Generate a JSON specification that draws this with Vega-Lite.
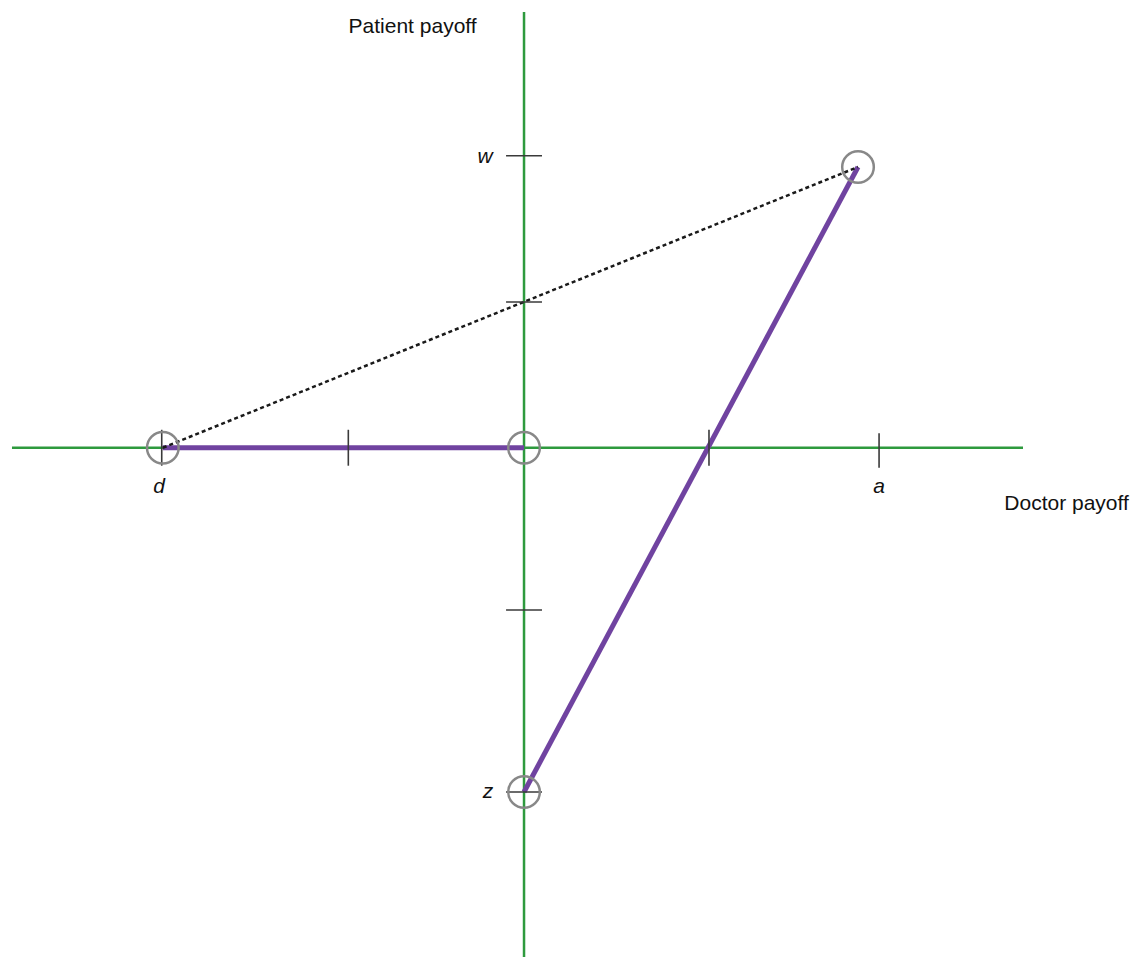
{
  "$schema": "https://vega.github.io/schema/vega-lite/v6.json",
  "width": 1131,
  "height": 959,
  "autosize": {"type": "fit", "contains": "padding"},
  "padding": 0,
  "background": "white",
  "config": {"view": {"stroke": null}},
  "datasets": {
    "axes": [
      {"x": -2.821, "x2": 2.749, "y": 0, "y2": 0},
      {"x": 0, "x2": 0, "y": -2.806, "y2": 2.401}
    ],
    "ticks": [
      {"x": -1.996, "x2": -1.996, "y": -0.099, "y2": 0.099},
      {"x": -0.968, "x2": -0.968, "y": -0.099, "y2": 0.099},
      {"x": 1.019, "x2": 1.019, "y": -0.099, "y2": 0.099},
      {"x": 1.956, "x2": 1.956, "y": -0.11, "y2": 0.08},
      {"x": -0.099, "x2": 0.099, "y": 1.609, "y2": 1.609},
      {"x": -0.099, "x2": 0.099, "y": 0.803, "y2": 0.803},
      {"x": -0.099, "x2": 0.099, "y": -0.894, "y2": -0.894},
      {"x": -0.099, "x2": 0.099, "y": -1.897, "y2": -1.897}
    ],
    "paths": [
      {"x": -1.99, "x2": 0, "y": 0, "y2": 0},
      {"x": 0, "x2": 1.84, "y": -1.897, "y2": 1.547}
    ],
    "dotted": [
      {"x": -1.99, "x2": 1.84, "y": 0, "y2": 1.547}
    ],
    "outcomes": [
      {"x": -1.99, "y": 0},
      {"x": 0, "y": 0},
      {"x": 0, "y": -1.897},
      {"x": 1.84, "y": 1.547}
    ],
    "letters": [
      {"x": -2.011, "y": -0.25, "label": "d"},
      {"x": 1.956, "y": -0.25, "label": "a"},
      {"x": -0.215, "y": 1.569, "label": "w"},
      {"x": -0.198, "y": -1.93, "label": "z"}
    ],
    "titles": [
      {"x": -0.614, "y": 2.285, "label": "Patient payoff"},
      {"x": 2.989, "y": -0.343, "label": "Doctor payoff"}
    ]
  },
  "layer": [
    {
      "data": {"name": "axes"},
      "mark": {"type": "rule", "color": "#2e9a3e", "strokeWidth": 2.5, "strokeCap": "butt"},
      "encoding": {
        "x": {"field": "x", "type": "quantitative", "scale": {"domain": [-2.887, 3.344], "nice": false, "zero": false}, "axis": null},
        "x2": {"field": "x2"},
        "y": {"field": "y", "type": "quantitative", "scale": {"domain": [-2.817, 2.467], "nice": false, "zero": false}, "axis": null},
        "y2": {"field": "y2"}
      }
    },
    {
      "data": {"name": "paths"},
      "mark": {"type": "rule", "color": "#7043a0", "strokeWidth": 5, "strokeCap": "butt"},
      "encoding": {
        "x": {"field": "x", "type": "quantitative"},
        "x2": {"field": "x2"},
        "y": {"field": "y", "type": "quantitative"},
        "y2": {"field": "y2"}
      }
    },
    {
      "data": {"name": "dotted"},
      "mark": {"type": "rule", "color": "#1a1a1a", "strokeWidth": 2.5, "strokeDash": [4, 3], "strokeCap": "butt"},
      "encoding": {
        "x": {"field": "x", "type": "quantitative"},
        "x2": {"field": "x2"},
        "y": {"field": "y", "type": "quantitative"},
        "y2": {"field": "y2"}
      }
    },
    {
      "data": {"name": "ticks"},
      "mark": {"type": "rule", "color": "#3a3a3a", "strokeWidth": 1.6, "strokeCap": "butt"},
      "encoding": {
        "x": {"field": "x", "type": "quantitative"},
        "x2": {"field": "x2"},
        "y": {"field": "y", "type": "quantitative"},
        "y2": {"field": "y2"}
      }
    },
    {
      "data": {"name": "outcomes"},
      "mark": {"type": "point", "shape": "circle", "filled": false, "color": "#888888", "strokeWidth": 2.5, "size": 1000, "opacity": 1},
      "encoding": {
        "x": {"field": "x", "type": "quantitative"},
        "y": {"field": "y", "type": "quantitative"}
      }
    },
    {
      "data": {"name": "letters"},
      "mark": {"type": "text", "font": "Liberation Sans", "fontSize": 21, "fontStyle": "italic", "align": "center", "baseline": "alphabetic", "color": "#111111"},
      "encoding": {
        "x": {"field": "x", "type": "quantitative"},
        "y": {"field": "y", "type": "quantitative"},
        "text": {"field": "label"}
      }
    },
    {
      "data": {"name": "titles"},
      "mark": {"type": "text", "font": "Liberation Sans", "fontSize": 21, "align": "center", "baseline": "alphabetic", "color": "#111111"},
      "encoding": {
        "x": {"field": "x", "type": "quantitative"},
        "y": {"field": "y", "type": "quantitative"},
        "text": {"field": "label"}
      }
    }
  ]
}
